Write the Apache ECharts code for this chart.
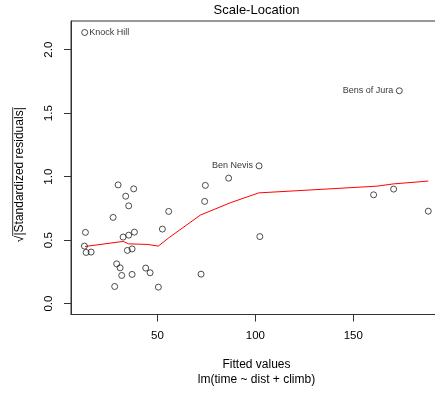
<!DOCTYPE html>
<html>
<head>
<meta charset="utf-8">
<script src="https://cdn.jsdelivr.net/npm/echarts@6/dist/echarts.min.js"></script>
<style>
  html, body { margin: 0; padding: 0; background: #fff; }
  #chart { width: 435px; height: 394px; }
</style>
</head>
<body>
<div id="chart"></div>
<script>
// lm(time ~ dist + climb): fitted values vs sqrt(|standardized residuals|)
const fitted = [
  13.27, 12.76, 13.62, 16.17, 29.95, 33.83, 37.91, 35.36, 27.40, 32.50,
  35.36, 38.27, 34.69, 37.09, 29.23, 30.97, 31.79, 37.09, 28.21, 44.03,
  46.28, 50.51, 52.55, 55.77, 74.49, 74.13, 86.38, 72.30, 101.9, 102.3,
  160.4, 170.6, 188.3, 173.5, 12.9
];
const sqrtStdResid = [
  0.561, 0.453, 0.403, 0.406, 0.935, 0.846, 0.904, 0.770, 0.679, 0.524,
  0.539, 0.563, 0.419, 0.431, 0.313, 0.282, 0.222, 0.230, 0.135, 0.280,
  0.243, 0.130, 0.587, 0.726, 0.931, 0.805, 0.988, 0.232, 1.085, 0.528,
  0.857, 0.902, 0.728, 1.676, 2.135
];
// names of the most extreme observations
const idLabels = {
  28: { text: 'Ben Nevis', side: 'left' },
  33: { text: 'Bens of Jura', side: 'left' },
  34: { text: 'Knock Hill', side: 'right' }
};

// smoothed trend (lowess)
const smoothX = [13.1, 32.65, 35.2, 45.1, 50.5, 55.8, 71.9, 87.2, 101.7, 162.1, 170.6, 188.3];
const smoothY = [0.450, 0.490, 0.471, 0.466, 0.453, 0.518, 0.697, 0.794, 0.872, 0.925, 0.943, 0.965];

const xTicks = [50, 100, 150];
const yTicks = [0, 0.5, 1, 1.5, 2];

const FONT = '"Liberation Sans", Arial, Helvetica, sans-serif';

const chart = echarts.init(document.getElementById('chart'), null, { renderer: 'canvas' });

const pointData = fitted.map((x, i) => {
  const item = { value: [x, sqrtStdResid[i]] };
  const id = idLabels[i];
  if (id) {
    item.label = {
      show: true,
      formatter: id.text,
      position: id.side,
      distance: id.side === 'right' ? 1 : 2.5,
      fontSize: 9,
      fontFamily: FONT,
      color: '#000'
    };
  }
  return item;
});

// y axis title: sqrt sign with an overline across |Standardized residuals|
const measure = document.createElement('canvas').getContext('2d');
measure.font = '12px ' + FONT;
const radicand = '|Standardized residuals|';
const radW = measure.measureText(radicand).width;
const sqrtW = measure.measureText('\u221A').width;
const totalW = radW + sqrtW;
const startX = -totalW / 2 + sqrtW;

const option = {
  animation: false,
  backgroundColor: '#fff',
  title: {
    text: 'Scale-Location',
    left: 256.6,
    top: 4,
    padding: 0,
    textAlign: 'center',
    textStyle: { fontSize: 13, fontWeight: 'normal', color: '#000', fontFamily: FONT }
  },
  grid: {
    left: 71, top: 21, width: 371, height: 293.5,
    containLabel: false,
    outerBoundsMode: 'none',
    show: true, borderColor: '#333', borderWidth: 1, backgroundColor: 'transparent'
  },
  xAxis: {
    type: 'value',
    min: 5.9, max: 195.3,
    splitLine: { show: false },
    axisLine: { show: true, onZero: false, lineStyle: { color: '#333', width: 1 } },
    axisTick: { show: true, length: 7, customValues: xTicks, lineStyle: { color: '#333' } },
    axisLabel: { customValues: xTicks, margin: 15, fontSize: 11.5, color: '#000', fontFamily: FONT },
    name: 'Fitted values\nlm(time ~ dist + climb)',
    nameLocation: 'middle',
    nameGap: 43,
    nameTextStyle: { fontSize: 12, color: '#000', fontFamily: FONT, lineHeight: 15 }
  },
  yAxis: {
    type: 'value',
    min: -0.0856, max: 2.2256,
    splitLine: { show: false },
    axisLine: { show: true, onZero: false, lineStyle: { color: '#333', width: 1 } },
    axisTick: { show: true, length: 7, customValues: yTicks, lineStyle: { color: '#333' } },
    axisLabel: {
      customValues: yTicks, rotate: 90, margin: 16, fontSize: 11.5, color: '#000', fontFamily: FONT,
      formatter: v => v.toFixed(1)
    }
  },
  graphic: [{
    type: 'group',
    x: 20, y: 174.7,
    rotation: Math.PI / 2,
    children: [
      {
        type: 'text',
        style: {
          text: '\u221A', x: startX, y: 0, fill: '#000',
          font: '12px ' + FONT, textAlign: 'right', textVerticalAlign: 'middle'
        }
      },
      {
        type: 'text',
        style: {
          text: radicand, x: startX, y: 0, fill: '#000',
          font: '12px ' + FONT, textAlign: 'left', textVerticalAlign: 'middle'
        }
      },
      {
        type: 'line',
        shape: { x1: startX - 0.5, y1: -7.3, x2: startX + radW, y2: -7.3 },
        style: { stroke: '#000', lineWidth: 0.8 }
      }
    ]
  }],
  series: [
    {
      type: 'scatter',
      data: pointData,
      symbol: 'circle',
      symbolSize: 6,
      itemStyle: { color: 'transparent', borderColor: '#222', borderWidth: 1 },
      emphasis: { disabled: true },
      z: 3
    },
    {
      type: 'line',
      data: smoothX.map((x, i) => [x, smoothY[i]]),
      showSymbol: false,
      symbol: 'none',
      lineStyle: { color: '#ff0000', width: 1 },
      emphasis: { disabled: true },
      z: 2
    }
  ]
};

chart.setOption(option);
</script>
</body>
</html>
